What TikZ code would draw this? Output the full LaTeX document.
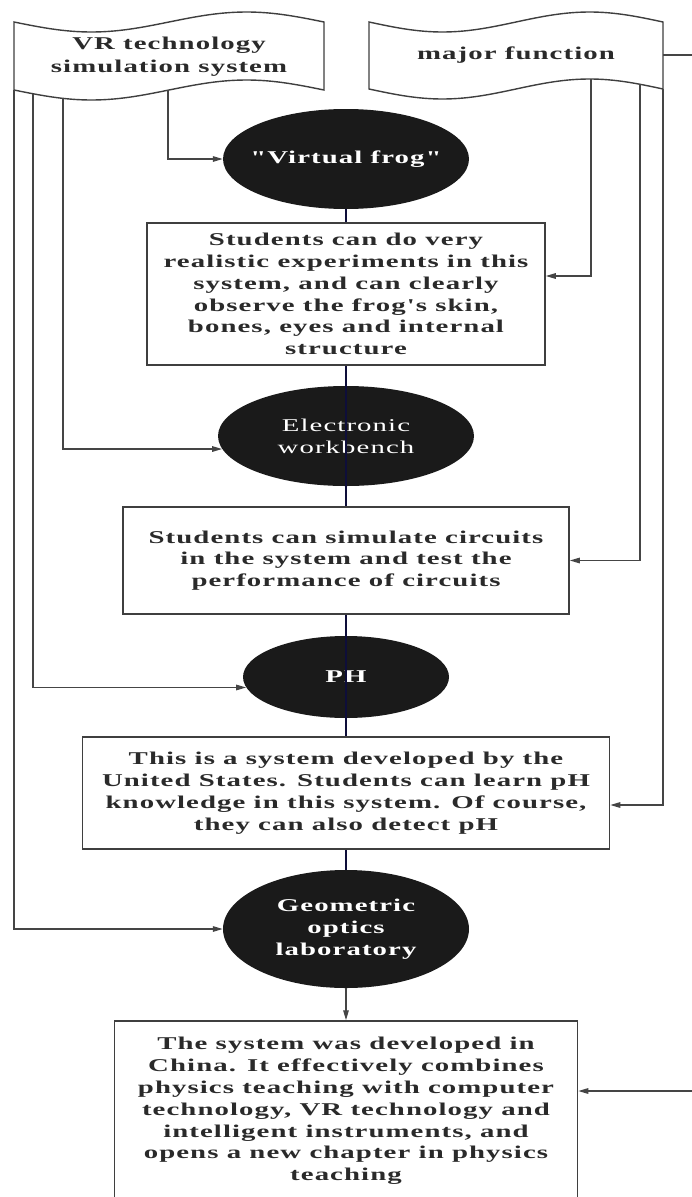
\documentclass[tikz,border=0pt]{standalone}
\usepackage{fontspec}
\usetikzlibrary{shapes.geometric,arrows.meta}
\newfontfamily\diagfont{Liberation Serif}[FakeStretch=1.6,LetterSpace=6]
\definecolor{linegray}{HTML}{454545}
\definecolor{boxgray}{HTML}{3F3F3F}
\definecolor{textgray}{HTML}{2A2A2A}
\definecolor{ovalfill}{HTML}{1A1A1A}
\definecolor{spineblue}{HTML}{0E0E3A}
\tikzset{
  conn/.style={draw=linegray, line width=1.4pt},
  arr/.style={conn, -{Triangle[length=10pt,width=5.5pt]}},
  spine/.style={draw=spineblue, line width=1.8pt},
  flagline/.style={draw=boxgray, line width=1.4pt, fill=white},
  flagtext/.style={align=center, text=textgray, inner sep=0pt,
    font=\diagfont\bfseries\fontsize{18}{22.5}\selectfont},
  infobox/.style={rectangle, draw=boxgray, line width=1.5pt, fill=white,
    inner sep=0pt, align=center, text=textgray,
    font=\diagfont\bfseries\fontsize{18}{21.8}\selectfont},
  oval/.style={ellipse, fill=ovalfill, inner sep=0pt},
  ovaltext/.style={text=white, align=center, inner sep=0pt,
    font=\diagfont\bfseries\fontsize{18}{21.8}\selectfont},
  ovaltextplain/.style={ovaltext, font=\diagfont\fontsize{18}{21.8}\selectfont},
}
\begin{document}
\begin{tikzpicture}[x=1pt,y=-1pt]
\useasboundingbox (0,0) rectangle (692,1197);

% wavy banners (one sine period along top and bottom edges)
\draw[flagline] plot[domain=14:324,samples=60] (\x,{22+10*sin((360/310)*(\x-14))})
  -- plot[domain=324:14,samples=60] (\x,{90+10*sin((360/310)*(\x-14))}) -- cycle;
\draw[flagline] plot[domain=369:663,samples=60] (\x,{22+10*sin((360/294)*(\x-369))})
  -- plot[domain=663:369,samples=60] (\x,{89+10*sin((360/294)*(\x-369))}) -- cycle;
\node[flagtext] (vr) at (169,56.5) {VR technology\\simulation system};
\node[flagtext] (mf) at (516,55) {major function};

% exit points on the banners
\coordinate (vBL) at (14,90);
\coordinate (v33) at (33,{90+10*sin((360/310)*19)});
\coordinate (v63) at (63,{90+10*sin((360/310)*49)});
\coordinate (v168) at (168,{90+10*sin((360/310)*154)});
\coordinate (m591) at (591,{89+10*sin((360/294)*222)});
\coordinate (m640) at (640,{89+10*sin((360/294)*271)});
\coordinate (mBR) at (663,89);
\coordinate (mR) at (663,55);

% ovals
\node[oval, minimum width=246pt, minimum height=100pt,
  label={[ovaltext]center:"Virtual frog"}] (e1) at (346,159) {};
\node[oval, minimum width=256pt, minimum height=100pt,
  label={[ovaltextplain]center:Electronic\\workbench}] (e2) at (346,436) {};
\node[oval, minimum width=206pt, minimum height=82pt,
  label={[ovaltext]center:PH}] (e3) at (346,677) {};
\node[oval, minimum width=246pt, minimum height=118pt,
  label={[ovaltext]center:Geometric\\optics\\laboratory}] (e4) at (346,929) {};

% description boxes
\node[infobox, minimum width=398pt, minimum height=142pt] (b1) at (346,294)
  {Students can do very\\realistic experiments in this\\system, and can clearly\\observe the frog's skin,\\bones, eyes and internal\\structure};
\node[infobox, minimum width=446pt, minimum height=107pt] (b2) at (346,560.5)
  {Students can simulate circuits\\in the system and test the\\performance of circuits};
\node[infobox, minimum width=527pt, minimum height=112pt] (b3) at (346,793)
  {This is a system developed by the\\United States. Students can learn pH\\knowledge in this system. Of course,\\they can also detect pH};
\node[infobox, minimum width=463pt, minimum height=180pt] (b4) at (346,1111)
  {The system was developed in\\China. It effectively combines\\physics teaching with computer\\technology, VR technology and\\intelligent instruments, and\\opens a new chapter in physics\\teaching};

% central spine
\draw[spine] (e1.south) -- (b1.north);
\draw[spine] (b1.south) -- (b2.north);
\draw[spine] (b2.south) -- (b3.north);
\draw[spine] (b3.south) -- (e4.north);
\draw[arr] (e4.south) -- (b4.north);

% left feeds into the ovals
\draw[arr] (v168) |- (e1.west);
\draw[arr] (v63) |- (e2.186);
\draw[arr] (v33) |- (e3.186);
\draw[arr] (vBL) |- (e4.west);

% right feeds into the boxes
\draw[arr] (m591) |- ([yshift=18pt]b1.east);
\draw[arr] (m640) |- (b2.east);
\draw[arr] (mBR) |- ([yshift=-12pt]b3.east);
\draw[arr] (mR) -- ++(40,0) |- ([yshift=20pt]b4.east);
\end{tikzpicture}
\end{document}
